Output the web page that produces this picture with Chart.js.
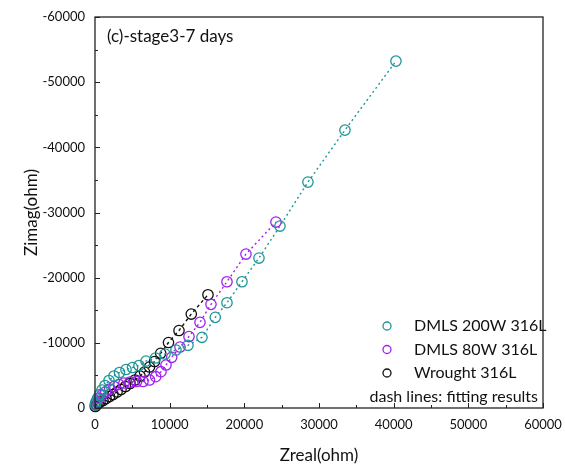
<!DOCTYPE html>
<html>
<head>
<meta charset="utf-8">
<script src="https://cdn.jsdelivr.net/npm/chart.js@4.4.1/dist/chart.umd.min.js"></script>
<style>
  html, body { margin: 0; padding: 0; background: #fff; }
  #wrap { width: 565px; height: 466px; position: relative; }
</style>
</head>
<body>
<div id="wrap"><canvas id="c" width="565" height="466"></canvas></div>
<script>
// ---- data (Zreal, Zimag in ohm) ----
const seriesNames = ['DMLS 200W 316L', 'DMLS 80W 316L', 'Wrought 316L'];
const seriesColors = ['#1e9696', '#a020f0', '#111111'];

const teal_zreal = [40, 134, 335, 603, 937, 1339, 1875, 2544, 3281, 4151, 5021, 5892, 6829, 8101, 9373, 10846, 12453, 14327, 16108, 17675, 19683, 21960, 24772, 28521, 33475, 40305];
const teal_zimag = [-460, -920, -1457, -2071, -2761, -3452, -4219, -4909, -5446, -5906, -6213, -6520, -7210, -7670, -8284, -8897, -9618, -10846, -13914, -16153, -19375, -23010, -27919, -34668, -42645, -53230];

const purple_zreal = [67, 268, 536, 937, 1406, 1968, 2544, 3214, 3883, 4687, 5557, 6427, 7298, 8128, 8837, 9507, 10270, 11382, 12587, 14060, 15532, 17675, 20219, 24236];
const purple_zimag = [-614, -1074, -1534, -1994, -2454, -2915, -3298, -3605, -3835, -3988, -4065, -4065, -4295, -4801, -5568, -6596, -7777, -9357, -10968, -13146, -15908, -19375, -23623, -28532];

const black_zreal = [40, 201, 402, 670, 1071, 1473, 1942, 2410, 2946, 3481, 4084, 4687, 5356, 6026, 6628, 7298, 7967, 8797, 9842, 11248, 12895, 15131];
const black_zimag = [-230, -460, -690, -920, -1151, -1457, -1764, -2071, -2454, -2838, -3298, -3758, -4295, -4909, -5522, -6289, -7133, -8391, -10048, -11889, -14420, -17380];

const xTickValues = [0, 10000, 20000, 30000, 40000, 50000, 60000];
const yTickValues = [0, -10000, -20000, -30000, -40000, -50000, -60000];
const minorStep = 5000;
const panelTitle = '(c)-stage3-7 days';
const noteText = 'dash lines: fitting results';

const FONT = 'Lato, "Open Sans", sans-serif';

function pts(xs, ys) { return xs.map((x, i) => ({ x: x, y: ys[i] })); }

const dataSets = [
  pts(teal_zreal, teal_zimag),
  pts(purple_zreal, purple_zimag),
  pts(black_zreal, black_zimag)
];
const dashes = [[2, 3], [2, 3], [3, 3]];

const datasets = dataSets.map((d, i) => ({
  label: seriesNames[i],
  data: d,
  showLine: true,
  borderColor: seriesColors[i],
  borderWidth: 1.4,
  borderDash: dashes[i],
  pointStyle: 'circle',
  pointRadius: 5.2,
  pointBorderWidth: 1.3,
  pointBorderColor: seriesColors[i],
  pointBackgroundColor: 'rgba(0,0,0,0)',
  tension: 0,
  clip: false
}));

const framePlugin = {
  id: 'frame',
  afterDatasetsDraw(chart) {
    const ctx = chart.ctx;
    const a = chart.chartArea;
    const xs = chart.scales.x, ys = chart.scales.y;
    ctx.save();
    ctx.strokeStyle = '#222';
    ctx.lineWidth = 1.3;
    ctx.strokeRect(a.left, a.top, a.right - a.left, a.bottom - a.top);
    ctx.lineWidth = 1;
    // x ticks (inward)
    for (let v = xs.min; v <= xs.max; v += minorStep) {
      const px = Math.round(xs.getPixelForValue(v)) + 0.5;
      const len = (v % 10000 === 0) ? 5 : 3;
      ctx.beginPath();
      ctx.moveTo(px, a.bottom); ctx.lineTo(px, a.bottom - len);
      ctx.stroke();
    }
    // y ticks (inward)
    for (let v = ys.min; v <= ys.max; v += minorStep) {
      const py = Math.round(ys.getPixelForValue(v)) + 0.5;
      const len = (v % 10000 === 0) ? 5 : 3;
      ctx.beginPath();
      ctx.moveTo(a.left, py); ctx.lineTo(a.left + len, py);
      ctx.stroke();
    }
    // panel title
    ctx.fillStyle = '#111';
    ctx.font = '17px ' + FONT;
    ctx.textBaseline = 'middle';
    ctx.textAlign = 'left';
    ctx.fillText(panelTitle, a.left + 12, a.top + 20);
    // legend
    ctx.font = '16px ' + FONT;
    const lx = 381, ty = a.bottom - 82, dy = 23.5;
    chart.data.datasets.forEach((ds, i) => {
      const y = ty + i * dy;
      ctx.beginPath();
      ctx.strokeStyle = ds.borderColor;
      ctx.lineWidth = 1.3;
      ctx.arc(lx + 6, y, 4, 0, Math.PI * 2);
      ctx.stroke();
      ctx.fillStyle = '#111';
      ctx.fillText(ds.label, lx + 33, y);
    });
    ctx.textAlign = 'right';
    ctx.fillText(noteText, a.right - 5, ty + 3 * dy);
    ctx.restore();
  }
};

new Chart(document.getElementById('c'), {
  type: 'scatter',
  data: { datasets: datasets },
  plugins: [framePlugin],
  options: {
    responsive: false,
    animation: false,
    layout: { padding: { left: 0, right: 22, top: 17, bottom: 0 } },
    plugins: { legend: { display: false }, tooltip: { enabled: false } },
    scales: {
      x: {
        type: 'linear', min: 0, max: 60000,
        afterBuildTicks(s) { s.ticks = xTickValues.map(v => ({ value: v })); },
        afterFit(s) { s.height = 58; s.paddingRight = 0; s.paddingLeft = 0; },
        grid: { display: false, drawTicks: false },
        border: { display: false },
        ticks: { padding: 9, color: '#111', font: { family: FONT, size: 13 }, maxRotation: 0,
                 callback: v => String(v) },
        title: { display: true, text: 'Zreal(ohm)', color: '#111',
                 font: { family: FONT, size: 17 }, padding: { top: 8, bottom: 0 } }
      },
      y: {
        type: 'linear', min: -60000, max: 0, reverse: true,
        afterBuildTicks(s) { s.ticks = yTickValues.map(v => ({ value: v })); },
        afterFit(s) { s.width = 95; s.paddingTop = 0; s.paddingBottom = 0; },
        grid: { display: false, drawTicks: false },
        border: { display: false },
        ticks: { padding: 10, color: '#111', font: { family: FONT, size: 13 },
                 callback: v => String(v) },
        title: { display: true, text: 'Zimag(ohm)', color: '#111',
                 font: { family: FONT, size: 17 }, padding: { top: 21, bottom: 0 } }
      }
    }
  }
});
</script>
</body>
</html>
